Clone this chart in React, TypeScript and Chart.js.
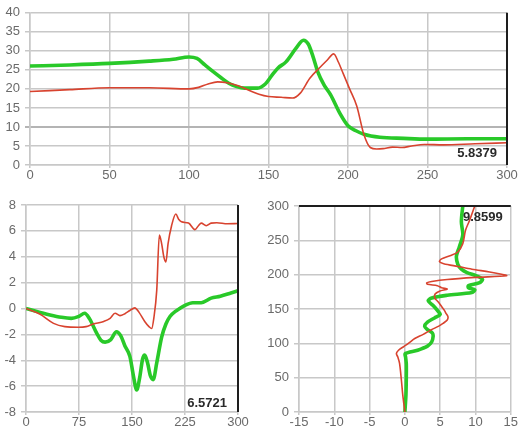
import React, { useEffect, useRef } from "react";
import { Chart, registerables } from "chart.js";

Chart.register(...registerables);

// ---------- Top chart ----------
const TOP_GREEN_X = [0, 25, 50, 75, 90, 100, 105, 110, 115, 120, 125, 130, 135, 143, 148, 152, 156, 161, 167, 172, 175, 178, 181, 185, 189, 195, 200, 205, 210, 220, 235, 250, 275, 300];
const TOP_GREEN_Y = [26, 26.3, 26.7, 27.3, 27.8, 28.4, 28, 26.3, 24.6, 23, 21.5, 20.6, 20.2, 20.2, 21.3, 23.5, 25.5, 27.1, 30.5, 32.8, 31.8, 28.5, 24.5, 21, 18.5, 13.5, 10.3, 9, 8.1, 7.3, 7, 6.8, 6.9, 6.9];
const TOP_RED_X = [0, 25, 50, 75, 100, 106, 112, 118, 124, 131, 138, 144, 150, 158, 165, 170, 176, 182, 187, 191, 194, 197, 201, 205.5, 210, 214, 218, 222, 228, 234, 240, 248, 260, 280, 300];
const TOP_RED_Y = [19.3, 19.8, 20.3, 20.3, 20.0, 20.4, 21.3, 21.85, 21.6, 20.8, 19.6, 18.6, 18, 17.8, 17.6, 18.9, 22.8, 25.5, 27.6, 29.2, 27, 24, 20, 15.5, 8, 4.6, 4.2, 4.3, 4.7, 4.6, 5.0, 5.4, 5.3, 5.6, 5.84];
const TOP_X_TICKS = [0, 50, 100, 150, 200, 250, 300];
const TOP_Y_TICKS = [0, 5, 10, 15, 20, 25, 30, 35, 40];
const TOP_LABEL = "5.8379";

// ---------- Bottom-left chart ----------
const BL_GREEN_X = [0, 20, 34, 50, 64, 75, 83, 90, 100, 106, 112, 120, 128, 134, 140, 147, 152, 156.6, 161, 165, 168, 172, 176, 180, 185, 192, 198, 204, 212, 225, 236, 248, 262, 275, 290, 300];
const BL_GREEN_Y = [0, -0.3, -0.5, -0.68, -0.76, -0.6, -0.37, -0.8, -1.9, -2.45, -2.6, -2.4, -1.8, -2.1, -2.9, -3.7, -5.2, -6.3, -5.3, -3.9, -3.6, -4.2, -5.2, -5.5, -4.2, -2.2, -1.2, -0.6, -0.2, 0.25, 0.45, 0.45, 0.8, 0.95, 1.2, 1.37];
const BL_RED_X = [0, 20, 39, 55, 74, 85, 95, 110, 119, 126, 133, 140, 147, 154, 160, 168, 174, 177.8, 181, 185, 188.7, 192, 195, 198, 201, 206, 212, 216, 220, 230, 239, 244, 248, 255, 262, 270, 285, 300];
const BL_RED_Y = [0, -0.45, -1.15, -1.4, -1.45, -1.4, -1.2, -1.0, -0.76, -0.37, -0.55, -0.4, -0.15, 0.05, -0.3, -1.0, -1.4, -1.55, -0.7, 1.4, 5.68, 5.0, 4.0, 3.6, 5.0, 6.4, 7.3, 6.9, 6.7, 6.6, 6.1, 6.4, 6.6, 6.4, 6.6, 6.63, 6.55, 6.57];
const BL_X_TICKS = [0, 75, 150, 225, 300];
const BL_Y_TICKS = [-8, -6, -4, -2, 0, 2, 4, 6, 8];
const BL_LABEL = "6.5721";

// ---------- Bottom-right chart (vertical profile) ----------
const BR_GREEN_DEPTH = [0, 25, 50, 70, 80, 85, 90, 96, 102, 110, 115, 120, 125, 131, 137, 142, 148, 155, 162, 166, 170, 174, 178, 181, 184, 188, 193, 198, 203, 208, 215, 227, 240, 258, 277, 300];
const BR_GREEN_VAL = [0, 0.15, 0.2, 0.2, 0.1, 0.05, 1.8, 3.2, 3.8, 4.0, 3.9, 3.2, 2.8, 3.2, 4.2, 5.0, 4.6, 4.0, 3.3, 3.8, 6, 9.5, 9.9, 9.0, 9.0, 10.5, 11, 10.2, 8.8, 8.0, 7.5, 7.3, 7.7, 8.2, 8.0, 8.2];
const BR_RED_DEPTH = [0, 25, 47, 71, 80, 85, 90, 95, 100, 107, 113, 119.5, 125, 129, 134, 139, 144, 148, 155, 160.5, 165, 168, 172, 176, 179, 181, 184, 186, 188, 190, 193, 196, 198.5, 201, 204, 208, 212, 216, 219, 223, 228, 233, 245, 265, 280, 300];
const BR_RED_VAL = [0, -0.3, -0.5, -0.76, -1.0, -1.2, -0.9, -0.2, 0.5, 1.4, 2.6, 3.7, 4.8, 5.4, 6.0, 6.1, 5.8, 5.6, 5.1, 4.7, 4.3, 4.2, 4.3, 4.9, 6.0, 5.2, 4.6, 3.2, 3.1, 3.8, 6, 10, 14.4, 13.5, 12, 9.5, 7.5, 5.5, 4.9, 5.2, 6.5, 7.5, 8.2, 8.6, 9.2, 9.9];
const BR_X_TICKS = [-15, -10, -5, 0, 5, 10, 15];
const BR_Y_TICKS = [0, 50, 100, 150, 200, 250, 300];
const BR_LABEL = "9.8599";

const GREEN = "#29c929";
const RED = "#d8432f";
const GRID = "#c8c8c8";
const TICK_COLOR = "#6a6a6a";
const FONT = "'Liberation Sans', Arial, sans-serif";

const pts = (xs: number[], ys: number[]) => xs.map((x, i) => ({ x, y: ys[i] }));

const markerPlugin = {
  id: "marker",
  afterDatasetsDraw(chart: any) {
    const o = chart.options.plugins.marker;
    if (!o) return;
    const { ctx, chartArea } = chart;
    ctx.save();
    ctx.strokeStyle = "#1e1e1e";
    ctx.lineWidth = 2;
    ctx.beginPath();
    if (o.axis === "x") {
      const px = chart.scales.x.getPixelForValue(o.at);
      ctx.moveTo(px, chartArea.top);
      ctx.lineTo(px, chartArea.bottom);
    } else {
      const py = chart.scales.y.getPixelForValue(o.at);
      ctx.moveTo(chartArea.left, py);
      ctx.lineTo(chartArea.right, py);
    }
    ctx.stroke();
    ctx.fillStyle = "#2a2a2a";
    ctx.font = `bold 13px ${FONT}`;
    ctx.textAlign = "right";
    ctx.textBaseline = "middle";
    ctx.fillText(o.text, chartArea.right - o.dx, o.fromTop ? chartArea.top + o.dy : chartArea.bottom - o.dy);
    ctx.restore();
  },
};

type Cfg = {
  red: { x: number; y: number }[];
  green: { x: number; y: number }[];
  xMin: number; xMax: number; xTicks: number[];
  yMin: number; yMax: number; yTicks: number[];
  yAxisWidth: number; xAxisHeight: number;
  padTop: number; padRight: number;
  marker: any;
  monotone: boolean;
  strongY?: number;
};

function makeConfig(c: Cfg): any {
  const lineOpts = c.monotone
    ? { cubicInterpolationMode: "monotone" as const }
    : { tension: 0.3 };
  const isStrong = (ctx: any) => c.strongY !== undefined && ctx.tick && ctx.tick.value === c.strongY;
  return {
    type: "scatter",
    data: {
      datasets: [
        { data: c.red, showLine: true, borderColor: RED, borderWidth: 1.6, pointRadius: 0, ...lineOpts },
        { data: c.green, showLine: true, borderColor: GREEN, borderWidth: 3.6, pointRadius: 0, ...lineOpts },
      ],
    },
    plugins: [markerPlugin],
    options: {
      animation: false,
      responsive: false,
      layout: { padding: { top: c.padTop, right: c.padRight, left: 0, bottom: 0 } },
      plugins: { legend: { display: false }, tooltip: { enabled: false }, marker: c.marker },
      scales: {
        x: {
          type: "linear",
          min: c.xMin, max: c.xMax,
          afterBuildTicks: (s: any) => { s.ticks = c.xTicks.map((v) => ({ value: v })); },
          afterFit: (s: any) => { s.height = c.xAxisHeight; },
          grid: { color: GRID, lineWidth: 1.5, tickLength: 3 },
          border: { color: GRID, width: 1.5 },
          ticks: { color: TICK_COLOR, font: { family: FONT, size: 13 }, padding: 0, maxRotation: 0, autoSkip: false },
        },
        y: {
          type: "linear",
          min: c.yMin, max: c.yMax,
          afterBuildTicks: (s: any) => { s.ticks = c.yTicks.map((v) => ({ value: v })); },
          afterFit: (s: any) => { s.width = c.yAxisWidth; },
          grid: {
            color: (ctx: any) => (isStrong(ctx) ? "#b4b4b4" : GRID),
            lineWidth: (ctx: any) => (isStrong(ctx) ? 2 : 1.5),
            tickLength: 5,
          },
          border: { color: GRID, width: 1.5 },
          ticks: { color: TICK_COLOR, font: { family: FONT, size: 13 }, padding: 5, autoSkip: false },
        },
      },
    },
  };
}

function ChartBox(props: { left: number; top: number; width: number; height: number; cfg: Cfg }) {
  const ref = useRef<HTMLCanvasElement>(null);
  useEffect(() => {
    if (!ref.current) return;
    const chart = new Chart(ref.current, makeConfig(props.cfg));
    return () => chart.destroy();
  }, []);
  return (
    <canvas
      ref={ref}
      width={props.width}
      height={props.height}
      style={{ position: "absolute", left: props.left, top: props.top, width: props.width, height: props.height }}
    />
  );
}

export default function App() {
  const top: Cfg = {
    red: pts(TOP_RED_X, TOP_RED_Y),
    green: pts(TOP_GREEN_X, TOP_GREEN_Y),
    xMin: 0, xMax: 300, xTicks: TOP_X_TICKS,
    yMin: 0, yMax: 40, yTicks: TOP_Y_TICKS,
    yAxisWidth: 30, xAxisHeight: 20, padTop: 10, padRight: 11,
    marker: { axis: "x", at: 300, text: TOP_LABEL, dx: 10, dy: 12, fromTop: false },
    monotone: true,
    strongY: 10,
  };
  const bl: Cfg = {
    red: pts(BL_RED_X, BL_RED_Y),
    green: pts(BL_GREEN_X, BL_GREEN_Y),
    xMin: 0, xMax: 300, xTicks: BL_X_TICKS,
    yMin: -8, yMax: 8, yTicks: BL_Y_TICKS,
    yAxisWidth: 26, xAxisHeight: 19, padTop: 15, padRight: 20,
    marker: { axis: "x", at: 300, text: BL_LABEL, dx: 11, dy: 9, fromTop: false },
    monotone: true,
  };
  const br: Cfg = {
    red: pts(BR_RED_VAL, BR_RED_DEPTH),
    green: pts(BR_GREEN_VAL, BR_GREEN_DEPTH),
    xMin: -15, xMax: 15, xTicks: BR_X_TICKS,
    yMin: 0, yMax: 300, yTicks: BR_Y_TICKS,
    yAxisWidth: 41, xAxisHeight: 19, padTop: 16, padRight: 7,
    marker: { axis: "y", at: 300, text: BR_LABEL, dx: 8, dy: 11, fromTop: true },
    monotone: false,
  };
  return (
    <div style={{ position: "absolute", left: 0, top: 0, width: 518, height: 431, background: "#fff" }}>
      <ChartBox left={0} top={0} width={518} height={185} cfg={top} />
      <ChartBox left={0} top={190} width={258} height={241} cfg={bl} />
      <ChartBox left={258} top={190} width={260} height={241} cfg={br} />
    </div>
  );
}
